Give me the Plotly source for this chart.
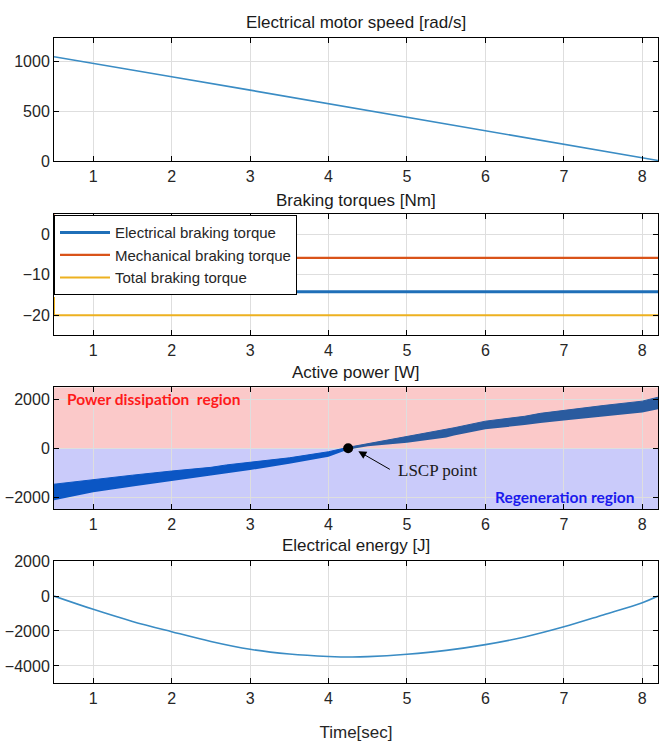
import plotly.graph_objects as go

# ---------------- data ----------------
speed_t = [0.5, 1, 2, 3, 4, 5, 6, 7, 8, 8.2]
speed_w = [1050, 985, 850, 715, 580, 445, 310, 175, 38, 10]

elec_t = [0.5, 8.2]
elec_tq = [-14.2, -14.2]
mech_t = [0.5, 0.5, 8.2]
mech_tq = [5, -5.8, -5.8]
total_t = [0.5, 0.5, 8.2]
total_tq = [-15.5, -20, -20]

pneg_t = [0.5, 1.0, 1.5, 2.0, 2.5, 2.7, 3.0, 3.5, 4.0, 4.25]
pneg_up = [-1470, -1270, -1100, -930, -780, -680, -580, -390, -140, 40]
pneg_lo = [-2130, -1800, -1560, -1330, -1130, -1020, -890, -630, -350, -50]
ppos_t = [4.25, 4.5, 5.0, 5.5, 5.6, 6.0, 6.5, 6.7, 7.0, 7.5, 8.0, 8.2]
ppos_up = [40, 190, 470, 760, 840, 1110, 1310, 1430, 1560, 1750, 1930, 2090]
ppos_lo = [-50, 80, 230, 440, 520, 780, 950, 1040, 1140, 1300, 1470, 1600]
lscp_t = [4.25]
lscp_p = [0]

energy_t = [0.5, 1, 1.5, 2, 2.5, 3, 3.5, 4, 4.3, 4.5, 5, 5.5, 6, 6.5, 7, 7.5, 8, 8.2]
energy_j = [0, -760, -1450, -2040, -2600, -3050, -3320, -3460, -3490, -3470, -3330, -3110,
            -2780, -2340, -1760, -1080, -380, 0]

x_ticks = [1, 2, 3, 4, 5, 6, 7, 8]
titles = ["Electrical motor speed [rad/s]", "Braking torques [Nm]", "Active power [W]", "Electrical energy [J]"]

# ---------------- layout geometry ----------------
W, H = 659, 751
boxes = [(31, 157), (211, 335), (388, 513), (566, 691)]  # pixel top/bottom
title_y = [15, 197, 373, 550]

def dom(top, bot):
    return [1 - bot / H, 1 - top / H]

fig = go.Figure()

fig.add_trace(go.Scatter(x=speed_t, y=speed_w, mode="lines", line=dict(color="#3a8cc4", width=1.6),
                         xaxis="x", yaxis="y", showlegend=False))

fig.add_trace(go.Scatter(x=elec_t, y=elec_tq, mode="lines", name="Electrical braking torque",
                         line=dict(color="#1f6fb8", width=3), xaxis="x2", yaxis="y2"))
fig.add_trace(go.Scatter(x=mech_t, y=mech_tq, mode="lines", name="Mechanical braking torque",
                         line=dict(color="#D95319", width=2.2), xaxis="x2", yaxis="y2"))
fig.add_trace(go.Scatter(x=total_t, y=total_tq, mode="lines", name="Total braking torque",
                         line=dict(color="#EDB120", width=2), xaxis="x2", yaxis="y2"))

fig.add_trace(go.Scatter(x=pneg_t, y=pneg_lo, mode="lines", line=dict(width=0, color="#0b56c4"),
                         xaxis="x3", yaxis="y3", showlegend=False, hoverinfo="skip"))
fig.add_trace(go.Scatter(x=pneg_t, y=pneg_up, mode="lines", line=dict(width=1, color="#0b56c4"),
                         fill="tonexty", fillcolor="#0b56c4", xaxis="x3", yaxis="y3", showlegend=False))
fig.add_trace(go.Scatter(x=ppos_t, y=ppos_lo, mode="lines", line=dict(width=0, color="#2a5b9f"),
                         xaxis="x3", yaxis="y3", showlegend=False, hoverinfo="skip"))
fig.add_trace(go.Scatter(x=ppos_t, y=ppos_up, mode="lines", line=dict(width=1, color="#2a5b9f"),
                         fill="tonexty", fillcolor="#2a5b9f", xaxis="x3", yaxis="y3", showlegend=False))
fig.add_trace(go.Scatter(x=lscp_t, y=lscp_p, mode="markers", marker=dict(color="black", size=10),
                         xaxis="x3", yaxis="y3", showlegend=False))

fig.add_trace(go.Scatter(x=energy_t, y=energy_j, mode="lines", line=dict(color="#3a8cc4", width=1.6, shape="spline"),
                         xaxis="x4", yaxis="y4", showlegend=False))

tick_font = dict(family="Liberation Sans, Arial, sans-serif", size=16, color="#262626")
axis_common = dict(range=[0.5, 8.2], tickvals=x_ticks, showgrid=True, gridcolor="#dedede", gridwidth=1,
                   ticks="inside", ticklen=5, tickcolor="black", mirror="allticks", showline=True,
                   linecolor="black", linewidth=1, zeroline=False, tickfont=tick_font)
yranges = [[0, 1235], [-25, 5], [-2500, 2500], [-5000, 2000]]
yticks = [[0, 500, 1000], [-20, -10, 0], [-2000, 0, 2000], [-4000, -2000, 0, 2000]]

layout = dict(width=W, height=H, margin=dict(l=54, r=1, t=0, b=0), plot_bgcolor="white",
              paper_bgcolor="white", font=dict(family="Liberation Sans, Arial, sans-serif"))
for i in range(4):
    sfx = "" if i == 0 else str(i + 1)
    ax = dict(axis_common)
    ax["anchor"] = "y" + sfx
    ax["domain"] = [0, 1]
    layout["xaxis" + sfx] = ax
    ay = dict(range=yranges[i], tickvals=yticks[i], showgrid=True, gridcolor="#dedede", ticks="inside",
              ticklen=5, tickcolor="black", mirror="allticks", showline=True, linecolor="black",
              linewidth=1, zeroline=False, tickfont=tick_font, anchor="x" + sfx,
              domain=dom(*boxes[i]))
    layout["yaxis" + sfx] = ay
layout["xaxis4"]["title"] = dict(text="Time[sec]", font=dict(size=17, color="#262626"), standoff=20)

fig.update_layout(**layout)
fig.update_layout(legend=dict(x=0, y=1 - 212 / H, xanchor="left", yanchor="top", bgcolor="white",
                              bordercolor="black", borderwidth=1, traceorder="normal",
                              font=dict(size=15, color="#262626", family="Liberation Sans, Arial, sans-serif"),
                              tracegroupgap=0, itemwidth=50))

# region shading
fig.add_shape(type="rect", xref="x3 domain", yref="y3", x0=0, x1=1, y0=0, y1=2500,
              fillcolor="#fbc9c9", line=dict(width=0), layer="below")
fig.add_shape(type="rect", xref="x3 domain", yref="y3", x0=0, x1=1, y0=-2500, y1=0,
              fillcolor="#cacbfa", line=dict(width=0), layer="below")

# subplot titles
for i in range(4):
    fig.add_annotation(text=titles[i], xref="paper", yref="paper", x=0.5, y=1 - title_y[i] / H,
                       xanchor="center", yanchor="middle", showarrow=False,
                       font=dict(size=17, color="#1a1a1a", family="Liberation Sans, Arial, sans-serif"))

fig.add_annotation(text="<b>Power dissipation  region</b>", xref="x3", yref="y3", x=0.64, y=2000,
                   xanchor="left", yanchor="middle", showarrow=False,
                   font=dict(size=15.5, color="#ff1a1a", family="Lato, sans-serif"))
fig.add_annotation(text="<b>Regeneration region</b>", xref="x3", yref="y3", x=7.93, y=-2000,
                   xanchor="right", yanchor="middle", showarrow=False,
                   font=dict(size=15.5, color="#1a1aee", family="Lato, sans-serif"))
fig.add_annotation(text="LSCP point", xref="x3", yref="y3", x=5.39, y=-920,
                   xanchor="center", yanchor="middle", showarrow=False,
                   font=dict(size=17, color="#1a1a1a", family="Liberation Serif, Times New Roman, serif"))
fig.add_annotation(text="", xref="x3", yref="y3", x=4.38, y=-120, ax=33, ay=19,
                   showarrow=True, arrowhead=2, arrowsize=1.6, arrowwidth=1, arrowcolor="black")

fig.write_html("out.html")
